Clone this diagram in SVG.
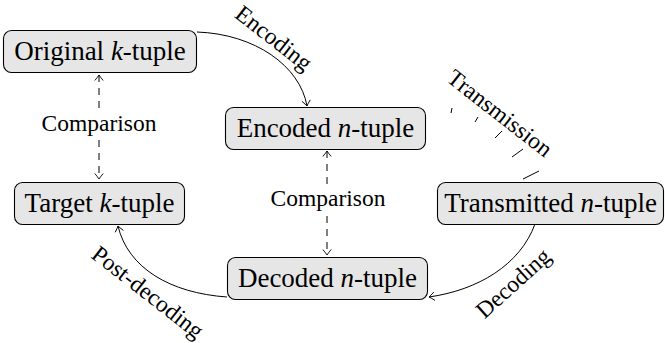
<svg xmlns="http://www.w3.org/2000/svg" width="665" height="343" viewBox="0 0 665 343" font-family="Liberation Serif, Times New Roman, serif">
<style>
.box{fill:#e6e6e6;stroke:#000;stroke-width:1.1}
.nt{font-size:27px;fill:#000;text-anchor:middle}
.lb{font-size:23.5px;fill:#000;text-anchor:middle}
.m{font-style:italic}
.edge{fill:none;stroke:#000;stroke-width:1}
.dash{stroke-dasharray:7 6}
</style>
<defs>
<marker id="to" viewBox="-7 -5 9 10" markerWidth="9" markerHeight="10" refX="0" refY="0" orient="auto" markerUnits="userSpaceOnUse">
<path d="M-5.5,-4.2 Q-1.5,-0.9 0,0 Q-1.5,0.9 -5.5,4.2" fill="none" stroke="#000" stroke-width="0.9"/>
</marker>
<marker id="tostart" viewBox="-7 -5 9 10" markerWidth="9" markerHeight="10" refX="0" refY="0" orient="auto-start-reverse" markerUnits="userSpaceOnUse">
<path d="M-5.5,-4.2 Q-1.5,-0.9 0,0 Q-1.5,0.9 -5.5,4.2" fill="none" stroke="#000" stroke-width="0.9"/>
</marker>
</defs>
<g id="connectors">
<path class="edge" d="M197,32 C255,34 300,66 307,106" marker-end="url(#to)"/>
<path class="edge" d="M535,224 C520,265 478,290 429,297" marker-end="url(#to)"/>
<path class="edge" d="M227,297 C170,293 128,268 118,226" marker-end="url(#to)"/>
<g class="edge">
<line x1="452" y1="108" x2="451" y2="113"/>
<line x1="478" y1="117" x2="475" y2="122"/>
<line x1="502" y1="131" x2="495" y2="138"/>
<line x1="523" y1="149" x2="512" y2="157"/>
<line x1="539" y1="171" x2="523" y2="179"/>
</g>
<line class="edge dash" x1="99" y1="75" x2="99" y2="179" marker-start="url(#tostart)" marker-end="url(#to)"/>
<line class="edge dash" x1="327" y1="151" x2="327" y2="255" marker-start="url(#tostart)" marker-end="url(#to)"/>
<text class="lb" font-family="Liberation Serif, serif" transform="translate(274,38) rotate(38)" x="0" y="8">Encoding</text>
<text class="lb" font-family="Liberation Serif, serif" transform="translate(500,113) rotate(38)" x="0" y="8">Transmission</text>
<text class="lb" font-family="Liberation Serif, serif" transform="translate(513,283) rotate(-42)" x="0" y="8">Decoding</text>
<text class="lb" font-family="Liberation Serif, serif" transform="translate(148,292) rotate(38)" x="0" y="8">Post-decoding</text>
<rect x="40" y="112" width="120" height="26" fill="#fff"/>
<text class="lb" font-family="Liberation Serif, serif" x="99" y="131">Comparison</text>
<rect x="268" y="187" width="120" height="26" fill="#fff"/>
<text class="lb" font-family="Liberation Serif, serif" x="328" y="206">Comparison</text>
</g>
<g id="original">
<rect class="box" x="3.5" y="30.5" width="193" height="42" rx="8"/>
<text class="nt" font-family="Liberation Serif, serif" x="100" y="60">Original <tspan class="m">k</tspan>-tuple</text>
</g>
<g id="encoded">
<rect class="box" x="225.5" y="107.5" width="200" height="42" rx="8"/>
<text class="nt" font-family="Liberation Serif, serif" x="325.5" y="137">Encoded <tspan class="m">n</tspan>-tuple</text>
</g>
<g id="target">
<rect class="box" x="14.5" y="182.5" width="170" height="42" rx="8"/>
<text class="nt" font-family="Liberation Serif, serif" x="99.5" y="212">Target <tspan class="m">k</tspan>-tuple</text>
</g>
<g id="transmitted">
<rect class="box" x="437.5" y="182.5" width="226" height="42" rx="8"/>
<text class="nt" font-family="Liberation Serif, serif" x="550.5" y="212">Transmitted <tspan class="m">n</tspan>-tuple</text>
</g>
<g id="decoded">
<rect class="box" x="227.5" y="257.5" width="200" height="42" rx="8"/>
<text class="nt" font-family="Liberation Serif, serif" x="327.5" y="287">Decoded <tspan class="m">n</tspan>-tuple</text>
</g>
</svg>
